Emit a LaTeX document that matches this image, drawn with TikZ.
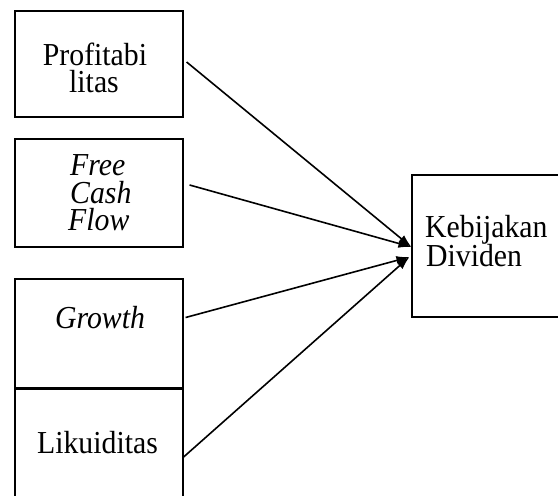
\documentclass[tikz,border=0pt]{standalone}
\usepackage{fontspec}
\setmainfont{Liberation Serif}[FakeStretch=0.93]
\usetikzlibrary{arrows.meta,calc}
\tikzset{
  boxn/.style={draw=black,line width=1.2pt,inner sep=0pt},
  txt/.style={inner sep=0pt,anchor=base,text height=19pt,text depth=5pt,font=\fontsize{32}{28}\selectfont},
  ltxt/.style={inner sep=0pt,anchor=base west,text height=19pt,text depth=5pt,font=\fontsize{32}{28}\selectfont},
  arr/.style={line width=1.6pt,-{Latex[length=13pt,width=9pt]}}
}
\begin{document}
\begin{tikzpicture}[x=1pt,y=-1pt]
\useasboundingbox (0,0) rectangle (558,496);
\clip (0,0) rectangle (558,496);
\fill[white] (0,0) rectangle (558,496);
% boxes
\node[boxn,minimum width=168pt,minimum height=106pt] (p) at (99,64) {};
\node[boxn,minimum width=168pt,minimum height=108pt] (f) at (99,193) {};
\node[boxn,minimum width=168pt,minimum height=109pt] (g) at (99,333.5) {};
\node[boxn,minimum width=168pt,minimum height=130pt] (l) at (99,454) {};
\node[boxn,minimum width=160pt,minimum height=142pt] (k) at (492,246) {};
% texts
\node[txt] (t1) at (95,65) {Profitabi};
\node[txt] (t2) at (94,92) {litas};
\node[ltxt] (t3) at (70,175) {\itshape Free};
\node[ltxt] (t4) at (70,203) {\itshape Cash};
\node[ltxt] (t5) at (68,230) {\itshape Flow};
\node[txt] (t6) at (100,328) {\itshape Growth};
\node[txt] (t7) at (97.5,453) {Likuiditas};
\node[ltxt] (t8) at (425,237) {Kebijakan};
\node[ltxt] (t9) at (426,266) {Dividen};
% arrows
\coordinate (kin1) at ($(k.west)+(0,1)$);
\coordinate (kin2) at ($(k.west)+(-2,11)$);
\draw[arr] ($(p.east)+(3,-2)$) -- (kin1);
\draw[arr] ($(f.east)+(6,-8)$) -- (kin1);
\draw[arr] ($(g.east)+(2,-16)$) -- (kin2);
\draw[arr] ($(l.east)+(0,3)$) -- (kin2);
\end{tikzpicture}
\end{document}
